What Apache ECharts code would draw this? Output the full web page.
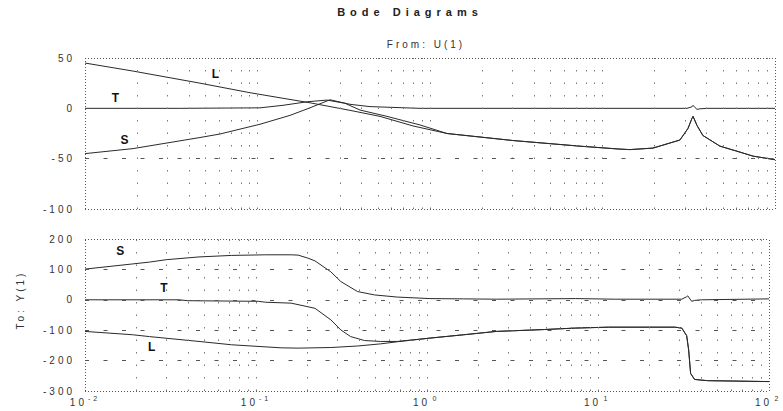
<!DOCTYPE html>
<html>
<head>
<meta charset="utf-8">
<title>Bode Diagrams</title>
<script src="https://cdn.jsdelivr.net/npm/echarts@6/dist/echarts.min.js"></script>
<style>
  html, body { margin: 0; padding: 0; background: #fff; }
  #chart { width: 783px; height: 411px; }
  #chart text { letter-spacing: 3px; }
  #chart text[style*="bold"] { letter-spacing: 5px; }
</style>
</head>
<body>
<div id="chart"></div>
<script>
// ---- Frequency response of the loop L, sensitivity S and complementary T ----
// frequencies in rad/sec, magnitude in dB, phase in degrees

// magnitude of L
const magFreqL = [0.01, 0.019, 0.0464, 0.0905, 0.1405, 0.2014, 0.3438, 0.513, 0.797, 1.255, 3.03, 7.41, 12.6, 14.4, 19.6, 28.1, 31.3, 33.0, 33.5, 35.3, 38.2, 48.0, 60.2, 74.6, 100];
const magL     = [45, 37, 25, 15.5, 10, 5.5, -2, -8, -17.5, -25, -32, -37.6, -40.5, -41, -39.5, -31.5, -20, -10, -8, -17, -27, -37.6, -42.6, -47.5, -51];

// magnitude of T
const magFreqT = [0.01, 0.0355, 0.1034, 0.1405, 0.1936, 0.2529, 0.3215, 0.3928, 0.5633, 0.875, 1.255, 3.03, 7.41, 12.6, 14.4, 19.6, 28.1, 31.3, 33.0, 33.5, 35.3, 38.2, 48.0, 60.2, 74.6, 100];
const magT     = [0, 0, 0.5, 3, 6.5, 8.2, 5, -1.7, -8, -16.5, -25, -32, -37.6, -40.5, -41, -39.5, -31.5, -20, -10, -8, -17, -27, -37.6, -42.6, -47.5, -51];

// magnitude of S
const magFreqS = [0.01, 0.019, 0.0464, 0.0606, 0.1034, 0.1543, 0.2014, 0.2631, 0.3438, 0.4489, 0.875, 30.9, 33.0, 33.5, 34.3, 35.3, 36.7, 40.3, 100];
const magS     = [-45, -40, -29, -25.5, -15.8, -7, 0.5, 8.5, 4, 1.7, 0, 0, 1.5, 3, 1, -1, -0.5, 0, 0];

// phase of L
const phFreqL = [0.01, 0.019, 0.0238, 0.0464, 0.0721, 0.1405, 0.1764, 0.274, 0.3928, 0.5339, 0.6701, 1.041, 1.639, 2.545, 4.768, 7.41, 11.5, 28.1, 30.9, 33.0, 33.9, 34.8, 36.7, 43.7, 100];
const phL     = [-104, -115, -121, -137, -148, -158, -159, -157, -152, -145, -138, -126, -115, -104, -98, -93, -90, -90, -93, -118, -165, -242, -262, -266, -269];

// phase of T
const phFreqT = [0.01, 0.0355, 0.04, 0.1034, 0.1135, 0.1606, 0.2213, 0.274, 0.3132, 0.3577, 0.4313, 0.5339, 0.6701, 1.041, 1.639, 2.545, 4.768, 7.41, 11.5, 28.1, 30.9, 33.0, 33.9, 34.8, 36.7, 43.7, 100];
const phT     = [0, 0, -3, -5, -8, -11, -28, -66, -99, -121, -134, -137, -137, -126, -115, -104, -98, -93, -90, -90, -93, -118, -165, -242, -262, -266, -269];

// phase of S
const phFreqS = [0.01, 0.019, 0.0238, 0.0299, 0.0464, 0.0721, 0.1135, 0.1606, 0.1764, 0.2014, 0.2213, 0.274, 0.3132, 0.3928, 0.4931, 0.6701, 1.041, 1.639, 2.545, 7.41, 12.6, 30.9, 33.0, 33.5, 35.3, 36.7, 40.3, 100];
const phS     = [101, 118, 124, 132, 141, 146, 148, 148, 147, 137, 128, 92, 60, 27, 16, 9, 4, 3, 2, 4, 2, 2, 10, 13, -5, -2, 0, 3];

// curve name tags: [frequency, value]
const magTags = [['L', 0.059, 33.7], ['T', 0.0155, 9.9], ['S', 0.0175, -31.4]];
const phTags  = [['S', 0.0166, 159], ['T', 0.0299, 38.6], ['L', 0.0254, -154]];

// axes
const freqMin = 0.01, freqMax = 100;
const xTickValues = [0.01, 0.1, 1, 10, 100];
const xTickExps   = ['-2', '-1', '0', '1', '2'];
const magTickLabels = ['-100', '-50', '0', '50'];
const phTickLabels  = ['-300', '-200', '-100', '0', '100', '200'];
const magRange = [-100, 50], magStep = 50;
const phRange  = [-300, 200], phStep = 100;
const magGuides = [-50];
const phGuides  = [100, 0, -100, -200];

const FONT = 'Liberation Sans, Arial, sans-serif';
const INK = '#2a2a2a';

function pairs(f, v) { return f.map((w, i) => [w, v[i]]); }

// log grid: decades and the 2..9 lines between them
const logGrid = [];
for (let e = -2; e < 2; e++) {
  for (let m = 2; m <= 9; m++) logGrid.push(m * Math.pow(10, e));
}
logGrid.push(0.1, 1, 10);

function guideLines(yMin, yMax, horiz) {
  const frame = { color: '#555', width: 1, type: [1, 2] };
  const data = [];
  logGrid.forEach(w => data.push({ xAxis: w, lineStyle: { color: '#777', width: 1, type: [1.5, 11] } }));
  horiz.forEach(v => data.push({ yAxis: v, lineStyle: { color: '#555', width: 1, type: [4, 14.5] } }));
  data.push({ xAxis: freqMin, lineStyle: frame });
  data.push({ xAxis: freqMax, lineStyle: frame });
  data.push({ yAxis: yMin, lineStyle: frame });
  data.push({ yAxis: yMax, lineStyle: frame });
  return {
    silent: true, symbol: ['none', 'none'], animation: false,
    label: { show: false }, emphasis: { disabled: true }, data
  };
}

function tagPoints(tags) {
  return {
    silent: true, animation: false,
    symbol: 'circle', symbolSize: 1,
    itemStyle: { color: 'rgba(0,0,0,0)' },
    label: { show: true, position: 'inside', color: '#111', fontSize: 12, fontWeight: 'bold', fontFamily: FONT,
             formatter: p => p.name },
    data: tags.map(t => ({ name: t[0], coord: [t[1], t[2]] }))
  };
}

function curve(name, xi, data, extra) {
  return Object.assign({
    name, type: 'line', xAxisIndex: xi, yAxisIndex: xi, data,
    showSymbol: false, symbol: 'none', animation: false, clip: true,
    lineStyle: { color: INK, width: 1 }
  }, extra || {});
}

function xAxisCfg(idx, labels) {
  return {
    gridIndex: idx, type: 'log', logBase: 10, min: freqMin, max: freqMax,
    axisLine: { show: false }, axisTick: { show: false }, splitLine: { show: false },
    axisLabel: labels ? {
      show: true, margin: 4,
      formatter: val => {
        let k = 0;
        xTickValues.forEach((t, i) => { if (Math.abs(Math.log10(val) - Math.log10(t)) < Math.abs(Math.log10(val) - Math.log10(xTickValues[k]))) k = i; });
        return '{b|10}{s|' + xTickExps[k] + '}';
      },
      rich: {
        b: { fontSize: 10, color: '#333', fontFamily: FONT, lineHeight: 14 },
        s: { fontSize: 7, color: '#333', fontFamily: FONT, lineHeight: 14, padding: [0, 0, 8, 7] }
      }
    } : { show: false }
  };
}

function yAxisCfg(idx, range, step, labels) {
  return {
    gridIndex: idx, type: 'value', min: range[0], max: range[1], interval: step,
    axisLine: { show: false }, axisTick: { show: false }, splitLine: { show: false },
    axisLabel: {
      margin: 10, fontSize: 10, color: '#333', fontFamily: FONT,
      formatter: (v, i) => labels[i] !== undefined ? labels[i] : String(v)
    }
  };
}

const chart = echarts.init(document.getElementById('chart'), null, { renderer: 'svg' });
chart.setOption({
  backgroundColor: '#fff',
  animation: false,
  grid: [
    { left: 85, right: 8, top: 58, height: 151 },
    { left: 85, right: 8, top: 239, height: 152 }
  ],
  xAxis: [xAxisCfg(0, false), xAxisCfg(1, true)],
  yAxis: [yAxisCfg(0, magRange, magStep, magTickLabels), yAxisCfg(1, phRange, phStep, phTickLabels)],
  graphic: [
    { type: 'text', x: 410, y: 12, silent: true,
      style: { text: 'Bode Diagrams', align: 'center', verticalAlign: 'middle', fontSize: 11, fontWeight: 'bold', fontFamily: FONT, fill: '#222' } },
    { type: 'text', x: 426, y: 44, silent: true,
      style: { text: 'From: U(1)', align: 'center', verticalAlign: 'middle', fontSize: 10, fontFamily: FONT, fill: '#333' } },
    { type: 'text', x: 20, y: 300, rotation: Math.PI / 2, silent: true,
      style: { text: 'To: Y(1)', align: 'center', verticalAlign: 'middle', fontSize: 10, fontFamily: FONT, fill: '#333' } }
  ],
  series: [
    curve('L', 0, pairs(magFreqL, magL), { markLine: guideLines(magRange[0], magRange[1], magGuides), markPoint: tagPoints(magTags) }),
    curve('T', 0, pairs(magFreqT, magT)),
    curve('S', 0, pairs(magFreqS, magS)),
    curve('L', 1, pairs(phFreqL, phL), { markLine: guideLines(phRange[0], phRange[1], phGuides), markPoint: tagPoints(phTags) }),
    curve('T', 1, pairs(phFreqT, phT)),
    curve('S', 1, pairs(phFreqS, phS))
  ]
});
</script>
</body>
</html>
